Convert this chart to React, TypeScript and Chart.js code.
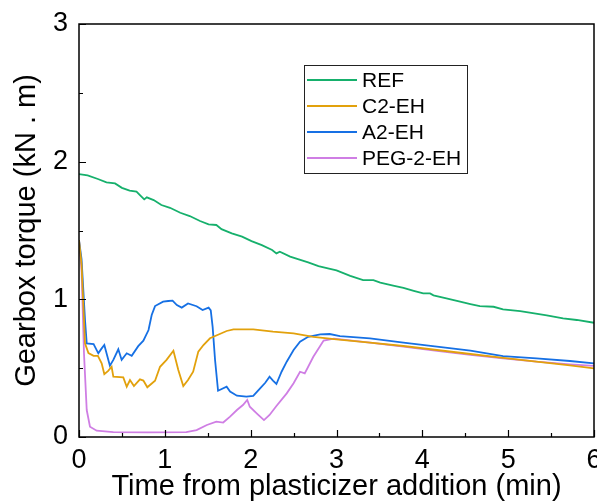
import React, { useEffect, useRef } from "react";
import { Chart, registerables } from "chart.js";

Chart.register(...registerables);

// Gearbox torque recorded after the plasticizer was added (time in min, torque in kN·m)
const refTime = [0, 0.1, 0.22, 0.32, 0.42, 0.5, 0.59, 0.67, 0.71, 0.76, 0.79, 0.87, 0.96, 1.06, 1.18, 1.29, 1.41, 1.51, 1.6, 1.66, 1.78, 1.9, 2.01, 2.13, 2.25, 2.3, 2.34, 2.46, 2.56, 2.67, 2.79, 2.9, 3.0, 3.16, 3.31, 3.43, 3.51, 3.66, 3.78, 3.9, 4.01, 4.09, 4.13, 4.28, 4.44, 4.56, 4.67, 4.83, 4.94, 5.14, 5.25, 5.45, 5.64, 5.8, 6.0];
const refTorque = [1.91, 1.9, 1.874, 1.85, 1.842, 1.81, 1.789, 1.782, 1.757, 1.726, 1.741, 1.721, 1.685, 1.665, 1.629, 1.605, 1.569, 1.545, 1.54, 1.51, 1.479, 1.455, 1.423, 1.394, 1.358, 1.334, 1.346, 1.31, 1.29, 1.268, 1.242, 1.225, 1.21, 1.171, 1.14, 1.14, 1.121, 1.1, 1.084, 1.062, 1.043, 1.043, 1.029, 1.007, 0.983, 0.966, 0.951, 0.946, 0.927, 0.915, 0.903, 0.884, 0.862, 0.85, 0.83];

const c2Time = [0, 0.03, 0.07, 0.11, 0.17, 0.22, 0.264, 0.295, 0.34, 0.38, 0.4, 0.516, 0.556, 0.594, 0.64, 0.71, 0.75, 0.796, 0.886, 0.944, 1.02, 1.1, 1.157, 1.215, 1.27, 1.33, 1.39, 1.45, 1.526, 1.64, 1.72, 1.8, 2.03, 2.26, 2.5, 2.73, 3.0, 3.39, 3.78, 4.17, 4.56, 4.94, 5.33, 5.72, 6.0];
const c2Torque = [1.43, 1.25, 0.68, 0.61, 0.59, 0.59, 0.535, 0.457, 0.48, 0.51, 0.438, 0.433, 0.365, 0.414, 0.37, 0.419, 0.41, 0.361, 0.409, 0.51, 0.56, 0.627, 0.487, 0.37, 0.414, 0.474, 0.62, 0.668, 0.717, 0.748, 0.77, 0.782, 0.782, 0.765, 0.753, 0.728, 0.709, 0.685, 0.661, 0.632, 0.603, 0.575, 0.547, 0.52, 0.499];

const a2Time = [0, 0.03, 0.07, 0.09, 0.17, 0.225, 0.26, 0.295, 0.36, 0.4, 0.458, 0.497, 0.556, 0.614, 0.69, 0.75, 0.81, 0.847, 0.886, 0.98, 1.04, 1.09, 1.14, 1.197, 1.27, 1.37, 1.44, 1.51, 1.535, 1.557, 1.585, 1.62, 1.72, 1.76, 1.84, 1.95, 2.03, 2.11, 2.17, 2.22, 2.26, 2.3, 2.36, 2.42, 2.5, 2.575, 2.67, 2.81, 2.92, 3.04, 3.39, 3.78, 4.17, 4.56, 4.94, 5.33, 5.72, 6.0];
const a2Torque = [1.43, 1.29, 0.85, 0.68, 0.675, 0.608, 0.64, 0.668, 0.518, 0.56, 0.637, 0.56, 0.608, 0.59, 0.66, 0.7, 0.777, 0.886, 0.951, 0.983, 0.988, 0.99, 0.958, 0.94, 0.97, 0.95, 0.922, 0.94, 0.92, 0.8, 0.56, 0.336, 0.365, 0.33, 0.3, 0.293, 0.298, 0.353, 0.394, 0.438, 0.41, 0.385, 0.474, 0.547, 0.632, 0.692, 0.728, 0.746, 0.748, 0.733, 0.717, 0.685, 0.656, 0.627, 0.588, 0.571, 0.552, 0.535];

const pegTime = [0, 0.03, 0.058, 0.09, 0.128, 0.206, 0.4, 0.8, 1.25, 1.37, 1.49, 1.6, 1.68, 1.76, 1.84, 1.91, 1.96, 1.99, 2.07, 2.155, 2.22, 2.3, 2.42, 2.5, 2.575, 2.63, 2.73, 2.85, 2.97, 3.39, 3.78, 4.17, 4.56, 4.94, 5.33, 5.72, 6.0];
const pegTorque = [1.43, 1.21, 0.608, 0.196, 0.075, 0.046, 0.036, 0.034, 0.036, 0.05, 0.087, 0.111, 0.105, 0.148, 0.196, 0.232, 0.269, 0.22, 0.172, 0.123, 0.16, 0.225, 0.317, 0.39, 0.474, 0.462, 0.583, 0.7, 0.715, 0.685, 0.656, 0.626, 0.596, 0.572, 0.547, 0.528, 0.516];

const seriesLabels = ["REF", "C2-EH", "A2-EH", "PEG-2-EH"];
const seriesColors = ["#16b06c", "#e2a10c", "#1670e4", "#cf7ee4"];

const xTicks = [0, 1, 2, 3, 4, 5, 6];
const yTicks = [0, 1, 2, 3];

const FONT = "'Liberation Sans', Arial, sans-serif";

const toPoints = (t: number[], v: number[]) => t.map((x, i) => ({ x, y: v[i] }));

// Box frame, inward major/minor ticks and the in-plot legend
const framePlugin = {
  id: "frameAndLegend",
  afterDraw(chart: any) {
    const { ctx, chartArea } = chart;
    const xs = chart.scales.x;
    const ys = chart.scales.y;
    const { left, right, top, bottom } = chartArea;
    ctx.save();
    ctx.strokeStyle = "#000";
    ctx.lineWidth = 1.5;
    ctx.strokeRect(left, top, right - left, bottom - top);

    ctx.lineWidth = 1.2;
    ctx.beginPath();
    for (let v = xs.min; v <= xs.max + 1e-9; v += 0.5) {
      const px = Math.round(xs.getPixelForValue(v)) + 0.5;
      const len = Math.abs(v - Math.round(v)) < 1e-9 ? 7 : 4;
      ctx.moveTo(px, bottom);
      ctx.lineTo(px, bottom - len);
    }
    for (let v = ys.min; v <= ys.max + 1e-9; v += 0.5) {
      const py = Math.round(ys.getPixelForValue(v)) + 0.5;
      const len = Math.abs(v - Math.round(v)) < 1e-9 ? 7 : 4;
      ctx.moveTo(left, py);
      ctx.lineTo(left + len, py);
    }
    ctx.stroke();

    // legend
    const bx = 304, by = 65, bw = 163, bh = 108;
    ctx.lineWidth = 1;
    ctx.strokeStyle = "#222";
    ctx.fillStyle = "#fff";
    ctx.fillRect(bx, by, bw, bh);
    ctx.strokeRect(bx + 0.5, by + 0.5, bw, bh);
    ctx.font = `21px ${FONT}`;
    ctx.textBaseline = "middle";
    ctx.textAlign = "left";
    chart.data.datasets.forEach((ds: any, i: number) => {
      const y = 80 + i * 26;
      ctx.strokeStyle = ds.borderColor;
      ctx.lineWidth = 2;
      ctx.beginPath();
      ctx.moveTo(307, y);
      ctx.lineTo(357, y);
      ctx.stroke();
      ctx.fillStyle = "#000";
      ctx.fillText(ds.label, 362, y + 1);
    });
    ctx.restore();
  },
};

export default function App() {
  const canvasRef = useRef<HTMLCanvasElement | null>(null);

  useEffect(() => {
    const canvas = canvasRef.current;
    if (!canvas) return;
    const series = [
      toPoints(refTime, refTorque),
      toPoints(c2Time, c2Torque),
      toPoints(a2Time, a2Torque),
      toPoints(pegTime, pegTorque),
    ];
    const chart = new Chart(canvas, {
      type: "line",
      data: {
        datasets: series.map((data, i) => ({
          label: seriesLabels[i],
          data,
          borderColor: seriesColors[i],
          backgroundColor: seriesColors[i],
          borderWidth: 1.8,
          pointRadius: 0,
          tension: 0,
          fill: false,
        })),
      },
      options: {
        animation: false,
        responsive: false,
        maintainAspectRatio: false,
        layout: { padding: { top: 24, right: 3, left: 0, bottom: 0 } },
        plugins: { legend: { display: false }, tooltip: { enabled: false } },
        scales: {
          x: {
            type: "linear",
            min: 0,
            max: 6,
            afterBuildTicks: (s: any) => {
              s.ticks = xTicks.map((value) => ({ value }));
            },
            afterFit: (s: any) => {
              s.height = 67;
              s.paddingLeft = 0;
              s.paddingRight = 0;
            },
            grid: { display: true, drawOnChartArea: false, drawTicks: false },
            border: { display: false },
            ticks: {
              color: "#000",
              padding: 7,
              maxRotation: 0,
              font: { family: FONT, size: 27 },
            },
            title: {
              display: true,
              text: "Time from plasticizer addition (min)",
              color: "#000",
              padding: { top: 0, bottom: 0 },
              font: { family: FONT, size: 29 },
            },
          },
          y: {
            type: "linear",
            min: 0,
            max: 3,
            afterBuildTicks: (s: any) => {
              s.ticks = yTicks.map((value) => ({ value }));
            },
            afterFit: (s: any) => {
              s.width = 79;
              s.paddingTop = 0;
              s.paddingBottom = 0;
            },
            grid: { display: true, drawOnChartArea: false, drawTicks: false },
            border: { display: false },
            ticks: {
              color: "#000",
              padding: 11,
              font: { family: FONT, size: 27 },
            },
            title: {
              display: true,
              text: "Gearbox torque (kN . m)",
              color: "#000",
              padding: { top: 10, bottom: 0 },
              font: { family: FONT, size: 29 },
            },
          },
        },
      },
      plugins: [framePlugin],
    });
    return () => chart.destroy();
  }, []);

  return (
    <div style={{ position: "absolute", left: 0, top: 0, width: 597, height: 504, background: "#fff" }}>
      <canvas ref={canvasRef} width={597} height={504} />
    </div>
  );
}
